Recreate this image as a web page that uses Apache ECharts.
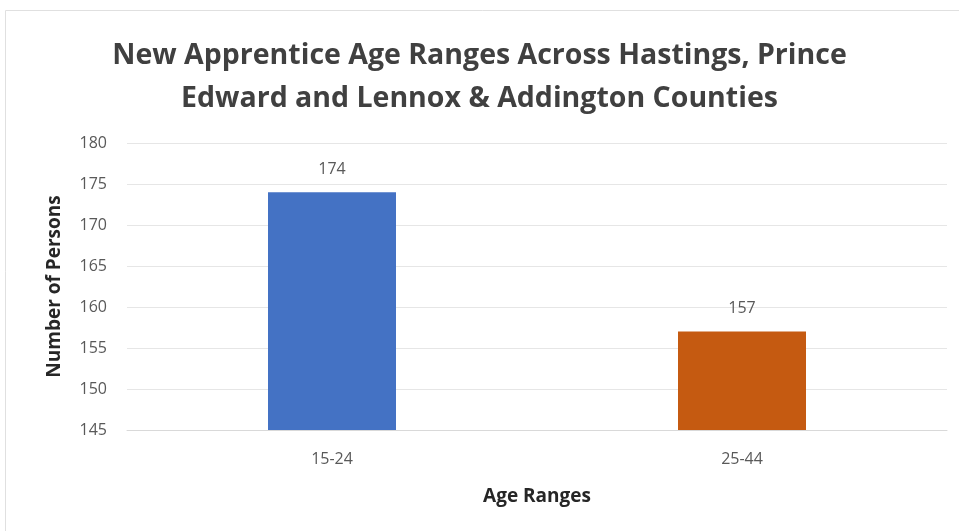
<!DOCTYPE html>
<html><head><meta charset="utf-8">
<script src="https://cdn.jsdelivr.net/npm/echarts@6/dist/echarts.min.js"></script>
<style>html,body{margin:0;padding:0;background:#fff}#c{width:959px;height:531px}</style>
</head><body><div id="c"></div>
<script>
const categories = ["15-24", "25-44"];
const values = [174, 157];
const barColors = ["#4472C4", "#C55A11"];
const yTicks = { min: 145, max: 180, interval: 5 };
const titleText = "New Apprentice Age Ranges Across Hastings, Prince\nEdward and Lennox & Addington Counties";
const xName = "Age Ranges";
const yName = "Number of Persons";

const chart = echarts.init(document.getElementById('c'));
chart.setOption({
  backgroundColor: '#fff',
  animation: false,
  graphic: [{ type: 'rect', shape: { x: 5.5, y: 10.5, width: 960, height: 530 }, style: { fill: 'none', stroke: '#e0e0e0', lineWidth: 1 } }],
  title: {
    text: titleText, left: 'center', top: 29,
    textStyle: { fontFamily: 'Open Sans', fontWeight: 'bold', fontSize: 28.5, color: '#404040', lineHeight: 43 }
  },
  grid: { left: 127, right: 12, top: 143, bottom: 101 },
  xAxis: {
    type: 'category', data: categories,
    name: xName, nameLocation: 'middle', nameGap: 57,
    nameTextStyle: { fontFamily: 'Open Sans', fontWeight: 'bold', fontSize: 19, color: '#262626' },
    axisLine: { lineStyle: { color: '#d9d9d9' } }, axisTick: { show: false },
    axisLabel: { fontFamily: 'Open Sans', fontSize: 16, color: '#595959', margin: 21 }
  },
  yAxis: {
    type: 'value', min: yTicks.min, max: yTicks.max, interval: yTicks.interval,
    name: yName, nameLocation: 'middle', nameGap: 63, nameRotate: 90,
    nameTextStyle: { fontFamily: 'Open Sans', fontWeight: 'bold', fontSize: 19, color: '#262626' },
    axisLine: { show: false }, axisTick: { show: false },
    axisLabel: { fontFamily: 'Open Sans', fontSize: 16, color: '#595959', margin: 20 },
    splitLine: { lineStyle: { color: '#e6e6e6' } }
  },
  series: [{
    type: 'bar', barWidth: 128,
    data: values.map((v, i) => ({ value: v, itemStyle: { color: barColors[i] } })),
    label: { show: true, position: 'top', distance: 15, fontFamily: 'Open Sans', fontSize: 16, color: '#595959' }
  }]
});
</script></body></html>
